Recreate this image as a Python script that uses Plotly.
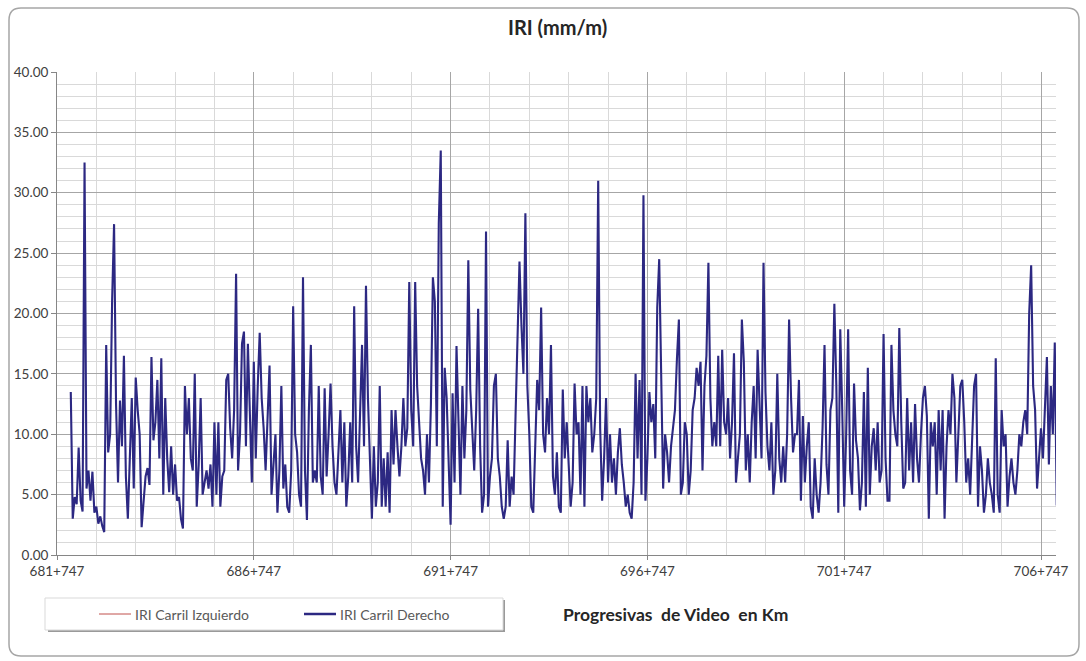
import plotly.graph_objects as go

# ---- data: IRI Carril Derecho, one value every 0.05 km ----
start_km = 682.097
step_km = 0.05

iri_682 = [13.5, 3.0, 4.8, 4.2, 8.9, 4.5, 3.6, 32.5, 5.5, 7.0, 4.5, 6.9, 3.5]
iri_683 = [4.0, 2.6, 3.2, 2.4, 1.9, 17.4, 8.5, 10.0, 21.0, 27.4, 12.5, 6.0, 12.8, 9.0, 16.5, 6.5, 3.0, 8.0, 13.0, 5.5]
iri_684 = [14.7, 12.0, 10.0, 2.3, 4.2, 6.5, 7.2, 5.8, 16.4, 9.5, 11.0, 14.5, 8.0, 16.3, 5.0, 13.0, 8.0, 5.2, 9.0, 5.0]
iri_685 = [7.5, 4.5, 4.8, 3.0, 2.2, 14.0, 10.0, 13.0, 8.0, 7.0, 15.0, 4.0, 7.5, 13.0, 5.0, 6.0, 7.0, 5.5, 7.5, 4.0]
iri_686 = [11.0, 5.0, 11.0, 4.0, 6.5, 7.0, 14.5, 15.0, 10.5, 8.0, 12.0, 23.3, 7.0, 10.0, 17.5, 18.5, 9.0, 17.5, 12.0, 6.0]
iri_687 = [16.0, 8.0, 14.0, 18.4, 13.0, 10.5, 7.0, 11.0, 15.7, 5.0, 8.0, 10.0, 3.5, 7.0, 14.0, 5.5, 7.5, 4.0, 3.5, 7.0]
iri_688 = [20.6, 10.0, 8.5, 5.0, 4.0, 23.0, 7.0, 2.9, 12.0, 17.4, 6.0, 7.0, 6.0, 14.0, 6.5, 5.0, 13.8, 6.5, 10.0, 14.2]
iri_689 = [9.0, 6.0, 5.0, 9.0, 12.0, 6.0, 11.0, 4.0, 6.5, 11.0, 6.0, 20.6, 9.0, 6.0, 11.0, 17.4, 9.0, 22.3, 13.0, 8.0]
iri_690 = [3.0, 9.0, 4.0, 6.0, 14.0, 4.0, 8.0, 4.0, 8.5, 3.5, 12.0, 7.5, 12.0, 9.0, 6.5, 9.0, 13.0, 9.0, 10.5, 22.6]
iri_691 = [12.0, 9.0, 22.6, 14.0, 10.5, 8.0, 7.0, 5.0, 10.0, 6.0, 12.5, 23.0, 21.0, 9.0, 27.5, 33.5, 4.0, 15.5, 13.0, 7.0]
iri_692 = [2.5, 13.4, 6.0, 17.3, 10.0, 5.0, 14.0, 8.0, 12.0, 24.4, 13.7, 10.5, 7.0, 12.0, 20.4, 9.0, 3.5, 5.0, 26.8, 4.0]
iri_693 = [6.5, 8.0, 14.0, 15.0, 8.0, 6.5, 4.0, 3.0, 4.0, 9.5, 4.0, 6.5, 5.0, 11.5, 18.4, 24.3, 19.0, 15.0, 28.3, 14.0]
iri_694 = [10.0, 4.0, 3.5, 9.0, 14.5, 12.0, 20.5, 10.0, 8.5, 13.0, 10.0, 17.4, 6.5, 5.0, 8.5, 4.0, 3.5, 13.7, 8.0, 11.0]
iri_695 = [7.0, 4.0, 6.0, 14.2, 10.0, 11.0, 5.0, 14.0, 4.0, 14.0, 11.0, 13.0, 8.5, 10.0, 13.0, 31.0, 10.5, 4.5, 8.0, 13.0]
iri_696 = [6.0, 10.0, 6.0, 8.0, 5.0, 8.5, 10.5, 7.5, 6.0, 4.0, 5.0, 3.5, 3.0, 6.0, 15.0, 8.0, 14.5, 5.0, 29.8, 4.5]
iri_697 = [8.0, 13.5, 11.0, 12.5, 8.0, 20.5, 24.5, 15.0, 5.5, 10.0, 8.5, 6.0, 9.0, 10.5, 12.0, 16.2, 19.5, 5.0, 6.0, 11.0]
iri_698 = [10.0, 5.0, 7.0, 12.0, 13.0, 15.5, 14.0, 16.0, 7.0, 14.0, 16.5, 24.2, 13.0, 9.0, 11.0, 9.0, 16.5, 9.0, 17.0, 11.0]
iri_699 = [10.0, 13.0, 8.0, 11.0, 16.7, 6.0, 8.0, 10.0, 19.5, 16.0, 7.0, 10.0, 6.0, 11.0, 14.0, 8.0, 17.0, 11.5, 8.0, 24.2]
iri_700 = [13.5, 9.0, 7.0, 11.0, 5.0, 7.0, 15.0, 8.0, 6.0, 9.0, 6.0, 10.0, 19.5, 13.0, 8.5, 10.0, 10.0, 14.5, 4.5, 11.5]
iri_701 = [6.0, 9.0, 11.0, 4.0, 3.0, 8.0, 5.0, 3.5, 6.0, 10.5, 17.4, 7.5, 5.0, 12.0, 13.0, 20.8, 14.0, 3.5, 18.7, 12.0]
iri_702 = [4.0, 10.0, 18.7, 7.0, 5.0, 14.2, 9.5, 8.0, 3.7, 6.0, 13.5, 4.0, 15.5, 5.0, 9.0, 10.5, 7.0, 11.0, 6.0, 7.0]
iri_703 = [18.3, 8.0, 4.5, 4.5, 17.4, 12.0, 10.0, 9.0, 18.8, 11.0, 5.5, 6.0, 13.0, 7.0, 11.0, 6.0, 12.5, 8.0, 6.0, 10.0]
iri_704 = [13.0, 14.0, 11.5, 3.0, 11.0, 9.0, 11.0, 5.0, 12.0, 7.0, 12.0, 3.0, 9.0, 12.0, 10.0, 15.0, 13.0, 6.0, 10.0, 14.0]
iri_705 = [14.5, 11.0, 6.0, 8.0, 5.0, 10.0, 14.0, 15.0, 4.0, 9.0, 7.0, 3.5, 5.0, 8.0, 6.0, 5.0, 3.5, 16.3, 5.0, 3.5]
iri_706 = [12.0, 9.0, 10.0, 4.0, 6.5, 8.0, 6.0, 5.0, 7.0, 10.0, 9.0, 11.0, 12.0, 10.0, 20.0, 24.0, 14.0, 12.0, 5.5, 8.0]
iri_707 = [10.5, 8.0, 12.0, 16.4, 7.5, 14.0, 10.0, 17.6, 4.1]

segments = [iri_682, iri_683, iri_684, iri_685, iri_686, iri_687, iri_688, iri_689,
            iri_690, iri_691, iri_692, iri_693, iri_694, iri_695, iri_696, iri_697,
            iri_698, iri_699, iri_700, iri_701, iri_702, iri_703, iri_704, iri_705,
            iri_706, iri_707]
iri_derecho = [v for seg in segments for v in seg]
km = [start_km + i * step_km for i in range(len(iri_derecho))]

tick_km = [681.747, 686.747, 691.747, 696.747, 701.747, 706.747]
tick_labels = ["681+747", "686+747", "691+747", "696+747", "701+747", "706+747"]

title_text = "IRI (mm/m)"
x_title_text = "Progresivas  de Video  en Km"
legend_names = ["IRI Carril Izquierdo", "IRI Carril Derecho"]

# ---- layout geometry (pixels) ----
W, H = 1086, 661
L, R, T, B = 57, 30, 72, 106
PW, PH = W - L - R, H - T - B

def px(x):
    return (x - L) / PW

def py(y):
    return (H - B - y) / PH

FONT = "Lato, 'Open Sans', sans-serif"
NAVY = "#2c2882"

fig = go.Figure()
fig.add_trace(go.Scatter(
    x=km, y=iri_derecho, mode="lines", name=legend_names[1],
    line=dict(color=NAVY, width=2.1), showlegend=False, hoverinfo="x+y"))

shapes = []
annotations = []

# outer rounded border (pixel path converted to paper coords)
def rounded_rect(xa, ya, xb, yb, r):
    pts = [("M", xa + r, ya), ("L", xb - r, ya), ("Q", xb, ya, xb, ya + r),
           ("L", xb, yb - r), ("Q", xb, yb, xb - r, yb),
           ("L", xa + r, yb), ("Q", xa, yb, xa, yb - r),
           ("L", xa, ya + r), ("Q", xa, ya, xa + r, ya)]
    s = []
    for p in pts:
        cmd = p[0]
        vals = p[1:]
        coords = []
        for k in range(0, len(vals), 2):
            coords.append(f"{px(vals[k]):.5f},{py(vals[k + 1]):.5f}")
        s.append(cmd + " " + " ".join(coords))
    return " ".join(s) + " Z"

shapes.append(dict(type="path", xref="paper", yref="paper",
                   path=rounded_rect(9, 8, 1079, 656, 12),
                   line=dict(color="#a6a6a6", width=1.5), layer="below"))

# legend box with shadow
shapes.append(dict(type="rect", xref="paper", yref="paper",
                   x0=px(48), x1=px(505), y0=py(630), y1=py(632),
                   line=dict(width=0), fillcolor="#9a9a9a"))
shapes.append(dict(type="rect", xref="paper", yref="paper",
                   x0=px(503), x1=px(505), y0=py(600), y1=py(632),
                   line=dict(width=0), fillcolor="#9a9a9a"))
shapes.append(dict(type="rect", xref="paper", yref="paper",
                   x0=px(45), x1=px(503), y0=py(598), y1=py(630),
                   line=dict(color="#d9d9d9", width=1), fillcolor="white"))
# legend samples
shapes.append(dict(type="line", xref="paper", yref="paper",
                   x0=px(99), x1=px(131), y0=py(614), y1=py(614),
                   line=dict(color="#c0504d", width=1)))
shapes.append(dict(type="line", xref="paper", yref="paper",
                   x0=px(304), x1=px(336), y0=py(614), y1=py(614),
                   line=dict(color=NAVY, width=2.5)))
annotations.append(dict(text=legend_names[0], xref="paper", yref="paper",
                        x=px(133), y=py(614), xanchor="left", yanchor="middle",
                        showarrow=False, font=dict(family=FONT, size=14, color="#595959")))
annotations.append(dict(text=legend_names[1], xref="paper", yref="paper",
                        x=px(338), y=py(614), xanchor="left", yanchor="middle",
                        showarrow=False, font=dict(family=FONT, size=14, color="#595959")))
# axis title
annotations.append(dict(text="<b>" + x_title_text + "</b>", xref="paper", yref="paper",
                        x=px(675), y=py(614), xanchor="center", yanchor="middle",
                        showarrow=False, font=dict(family=FONT, size=17.5, color="#262626")))
# chart title
annotations.append(dict(text="<b>" + title_text + "</b>", xref="paper", yref="paper",
                        x=px(557), y=py(27), xanchor="center", yanchor="middle",
                        showarrow=False, font=dict(family=FONT, size=20, color="#262626")))

fig.update_layout(
    width=W, height=H,
    margin=dict(l=L, r=R, t=T, b=B),
    paper_bgcolor="white", plot_bgcolor="white",
    shapes=shapes, annotations=annotations,
    showlegend=False,
    xaxis=dict(
        range=[681.747, 681.747 + PW / 39.36],
        tickmode="array", tickvals=tick_km, ticktext=tick_labels,
        showgrid=True, gridcolor="#a6a6a6", gridwidth=1,
        minor=dict(tickmode="linear", tick0=681.747, dtick=1, showgrid=True,
                   gridcolor="#d9d9d9", gridwidth=1),
        showline=True, linecolor="#868686", linewidth=1,
        ticks="outside", ticklen=4, tickcolor="#868686",
        tickfont=dict(family=FONT, size=13.5, color="#404040"),
        zeroline=False, fixedrange=True),
    yaxis=dict(
        range=[0, 40], tickmode="linear", tick0=0, dtick=5, tickformat=".2f",
        showgrid=True, gridcolor="#a6a6a6", gridwidth=1,
        minor=dict(tickmode="linear", tick0=0, dtick=1, showgrid=True,
                   gridcolor="#d9d9d9", gridwidth=1),
        showline=True, linecolor="#868686", linewidth=1,
        ticks="outside", ticklen=5, tickcolor="#868686",
        tickfont=dict(family=FONT, size=13.5, color="#404040"),
        zeroline=False, fixedrange=True),
)

fig.write_html("out.html")
